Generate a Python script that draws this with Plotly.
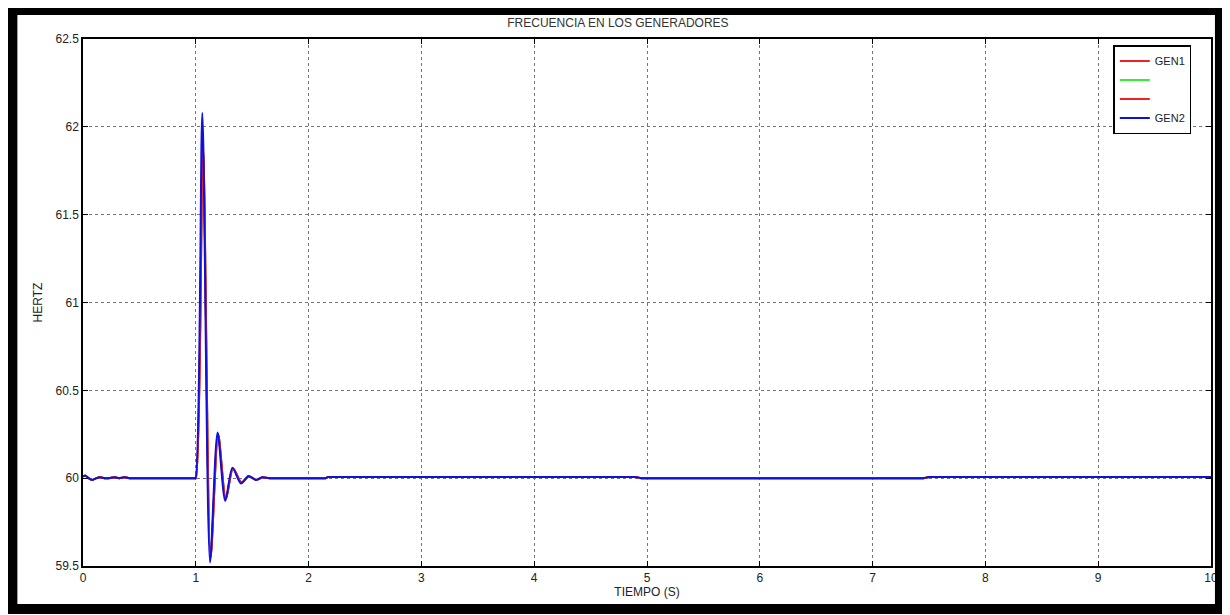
import plotly.graph_objects as go

# GEN2 (blue) frequency trace
t_gen2 = [0.0, 0.02, 0.05, 0.08, 0.12, 0.15, 0.19, 0.23, 0.28, 0.32, 0.37, 0.41, 0.45, 0.47, 0.97, 0.99,
          0.998, 1.058, 1.126, 1.193, 1.261, 1.325, 1.40, 1.466, 1.532, 1.587, 1.65, 1.67, 2.13, 2.15, 2.17, 2.19,
          4.88, 4.9, 4.95, 4.97, 7.43, 7.45, 7.5, 7.52, 10.0]
f_gen2 = [60.01, 60.015, 60.0, 59.99, 60.0, 60.005, 60.0, 60.0, 60.005, 60.0, 60.005, 60.0, 60.0, 60.0, 60.0, 60.0,
          60.0, 62.08, 59.52, 60.26, 59.87, 60.06, 59.97, 60.012, 59.99, 60.005, 60.0, 60.0, 60.0, 60.0, 60.006, 60.006,
          60.006, 60.006, 60.0, 60.0, 60.0, 60.0, 60.006, 60.006, 60.006]

# GEN1 (red) frequency trace
t_gen1 = [0.0, 0.02, 0.05, 0.08, 0.12, 0.15, 0.19, 0.23, 0.28, 0.32, 0.37, 0.41, 0.45, 0.47, 0.97, 0.99,
          1.0, 1.063, 1.131, 1.198, 1.266, 1.33, 1.405, 1.47, 1.537, 1.59, 1.65, 1.67, 2.13, 2.15, 2.17, 2.19,
          4.88, 4.9, 4.95, 4.97, 7.43, 7.45, 7.5, 7.52, 10.0]
f_gen1 = [60.01, 60.013, 60.0, 59.99, 60.0, 60.005, 60.0, 60.0, 60.005, 60.0, 60.005, 60.0, 60.0, 60.0, 60.0, 60.0,
          60.0, 61.9, 59.55, 60.25, 59.88, 60.055, 59.975, 60.01, 59.99, 60.004, 60.0, 60.0, 60.0, 60.0, 60.006, 60.006,
          60.006, 60.006, 60.0, 60.0, 60.0, 60.0, 60.006, 60.006, 60.006]

x_ticks = [0, 1, 2, 3, 4, 5, 6, 7, 8, 9, 10]
y_ticks = [59.5, 60, 60.5, 61, 61.5, 62, 62.5]

FONT = "Liberation Sans, Arial, sans-serif"

fig = go.Figure()
# drawing order: green under, then red, GEN1, GEN2 on top
fig.add_trace(go.Scatter(x=t_gen1, y=f_gen1, mode="lines", name="", legendrank=2,
                         line=dict(color="#33ee33", width=2, shape="spline", smoothing=0.8)))
fig.add_trace(go.Scatter(x=t_gen1, y=f_gen1, mode="lines", name=" ", legendrank=3,
                         line=dict(color="#ee2222", width=2, shape="spline", smoothing=0.8)))
fig.add_trace(go.Scatter(x=t_gen1, y=f_gen1, mode="lines", name="GEN1", legendrank=1,
                         line=dict(color="#ee2222", width=2, shape="spline", smoothing=0.8)))
fig.add_trace(go.Scatter(x=t_gen2, y=f_gen2, mode="lines", name="GEN2", legendrank=4,
                         line=dict(color="#1010dd", width=2, shape="spline", smoothing=0.8)))

# page body adds an 8px offset; work in screen coords and subtract it
OFF = 8
W, H = 1230 - OFF, 615 - OFF
L = 83 - OFF
T = 39 - OFF
R = W - (1217 - OFF)
B = H - (566 - OFF)
pw, ph = W - L - R, H - T - B

def px(xs):
    return (xs - OFF - L) / pw

def py(ys):
    return (H - B - (ys - OFF)) / ph

fig.update_layout(
    width=W, height=H,
    margin=dict(l=L, r=R, t=T, b=B),
    paper_bgcolor="white", plot_bgcolor="white",
    font=dict(family=FONT, size=12, color="#222222"),
    title=dict(text="FRECUENCIA EN LOS GENERADORES", x=px(649), xanchor="center",
               y=1 - (23 - OFF) / H, yanchor="middle", font=dict(size=12, color="#333333")),
    showlegend=True,
    legend=dict(x=px(1158), y=py(45), xanchor="center", yanchor="top",
                bordercolor="black", borderwidth=1.5, bgcolor="white",
                font=dict(size=11, color="#222222"), tracegroupgap=0,
                traceorder="normal", itemwidth=30),
    shapes=[dict(type="rect", xref="paper", yref="paper",
                 x0=px(12), x1=px(1226), y0=py(609), y1=py(10),
                 line=dict(color="black", width=10), layer="above")],
)

fig.update_xaxes(range=[0, 10], tickvals=x_ticks, ticktext=[str(v) for v in x_ticks],
                 showgrid=True, gridcolor="#777777", griddash="dot", gridwidth=1,
                 showline=True, linecolor="black", linewidth=1.5, mirror="ticks",
                 ticks="inside", ticklen=5, tickcolor="black", tickfont=dict(size=12),
                 zeroline=False, title=dict(text="TIEMPO (S)", standoff=1, font=dict(size=12)))
fig.update_yaxes(range=[59.5, 62.5], tickvals=y_ticks, ticktext=["59.5", "60", "60.5", "61", "61.5", "62", "62.5"],
                 showgrid=True, gridcolor="#777777", griddash="dot", gridwidth=1,
                 showline=True, linecolor="black", linewidth=1.5, mirror="ticks",
                 ticks="inside", ticklen=5, tickcolor="black", tickfont=dict(size=12),
                 zeroline=False, title=dict(text="HERTZ", standoff=10, font=dict(size=12)))

fig.write_html("out.html")
